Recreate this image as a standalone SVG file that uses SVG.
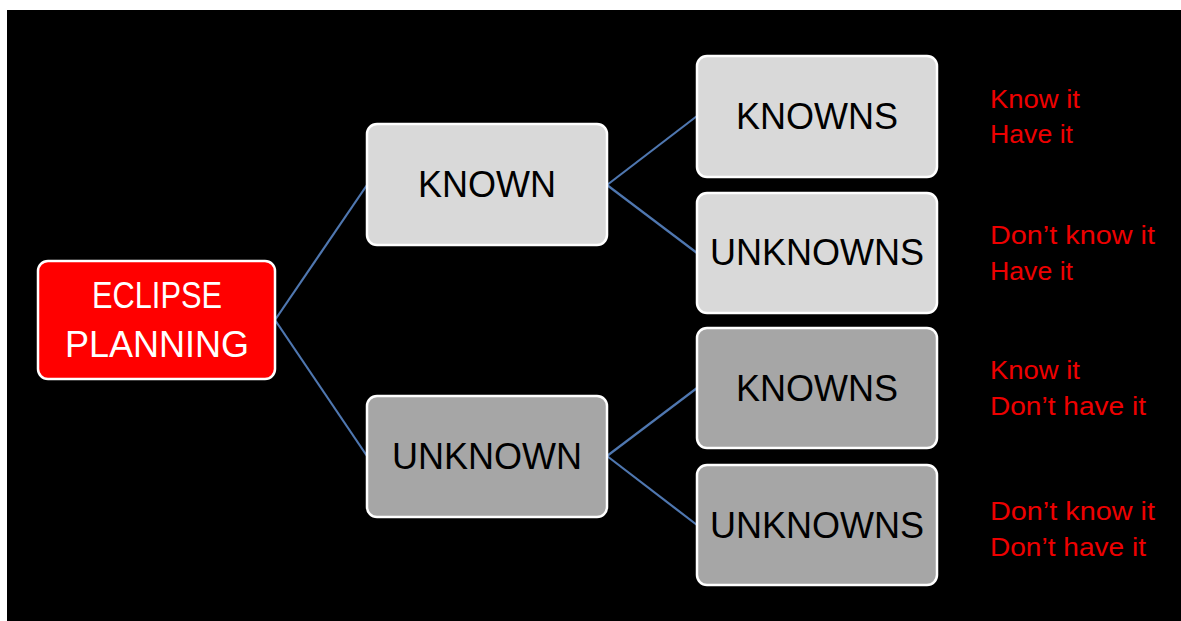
<svg xmlns="http://www.w3.org/2000/svg" width="1181" height="621" viewBox="0 0 1181 621">
<style>
.box{stroke:#ffffff;stroke-width:2.5}
.light{fill:#d9d9d9}
.dark{fill:#a6a6a6}
.red{fill:#ff0000}
.lbl{font-family:"Liberation Sans",Arial,sans-serif;font-size:36px;fill:#000000;text-anchor:middle}
.wlbl{font-family:"Liberation Sans",Arial,sans-serif;font-size:36px;fill:#ffffff;text-anchor:middle}
.note{font-family:"Liberation Sans",Arial,sans-serif;font-size:26px;fill:#ee0000}
.conn{stroke:#4f77b0;stroke-width:2.2;fill:none}
</style>
<rect x="0" y="0" width="1181" height="621" fill="#ffffff"/>
<rect x="7" y="10" width="1174" height="611" fill="#000000"/>
<g id="connectors">
<line class="conn" x1="275" y1="320" x2="367" y2="185"/>
<line class="conn" x1="275" y1="320" x2="367" y2="456"/>
<line class="conn" x1="607" y1="185" x2="697" y2="116"/>
<line class="conn" x1="607" y1="185" x2="697" y2="253"/>
<line class="conn" x1="607" y1="456" x2="697" y2="388"/>
<line class="conn" x1="607" y1="456" x2="697" y2="525"/>
</g>
<g id="eclipse">
<rect class="box red" x="38" y="261" width="237" height="118" rx="10"/>
<text class="wlbl" x="157" y="308" textLength="130" lengthAdjust="spacingAndGlyphs">ECLIPSE</text>
<text class="wlbl" x="157" y="357">PLANNING</text>
</g>
<g id="known">
<rect class="box light" x="367" y="124" width="240" height="121" rx="10"/>
<text class="lbl" x="487" y="197">KNOWN</text>
</g>
<g id="unknown">
<rect class="box dark" x="367" y="396" width="240" height="121" rx="10"/>
<text class="lbl" x="487" y="469">UNKNOWN</text>
</g>
<g id="known-knowns">
<rect class="box light" x="697" y="56" width="240" height="121" rx="10"/>
<text class="lbl" x="817" y="129">KNOWNS</text>
</g>
<g id="known-unknowns">
<rect class="box light" x="697" y="193" width="240" height="120" rx="10"/>
<text class="lbl" x="817" y="265">UNKNOWNS</text>
</g>
<g id="unknown-knowns">
<rect class="box dark" x="697" y="328" width="240" height="120" rx="10"/>
<text class="lbl" x="817" y="401">KNOWNS</text>
</g>
<g id="unknown-unknowns">
<rect class="box dark" x="697" y="465" width="240" height="120" rx="10"/>
<text class="lbl" x="817" y="538">UNKNOWNS</text>
</g>
<g id="notes">
<text class="note" x="990" y="108" textLength="90" lengthAdjust="spacingAndGlyphs">Know it</text>
<text class="note" x="990" y="143" textLength="83" lengthAdjust="spacingAndGlyphs">Have it</text>
<text class="note" x="990" y="244" textLength="165" lengthAdjust="spacingAndGlyphs">Don’t know it</text>
<text class="note" x="990" y="280" textLength="83" lengthAdjust="spacingAndGlyphs">Have it</text>
<text class="note" x="990" y="379" textLength="90" lengthAdjust="spacingAndGlyphs">Know it</text>
<text class="note" x="990" y="415" textLength="156" lengthAdjust="spacingAndGlyphs">Don’t have it</text>
<text class="note" x="990" y="520" textLength="165" lengthAdjust="spacingAndGlyphs">Don’t know it</text>
<text class="note" x="990" y="556" textLength="156" lengthAdjust="spacingAndGlyphs">Don’t have it</text>
</g>
</svg>
